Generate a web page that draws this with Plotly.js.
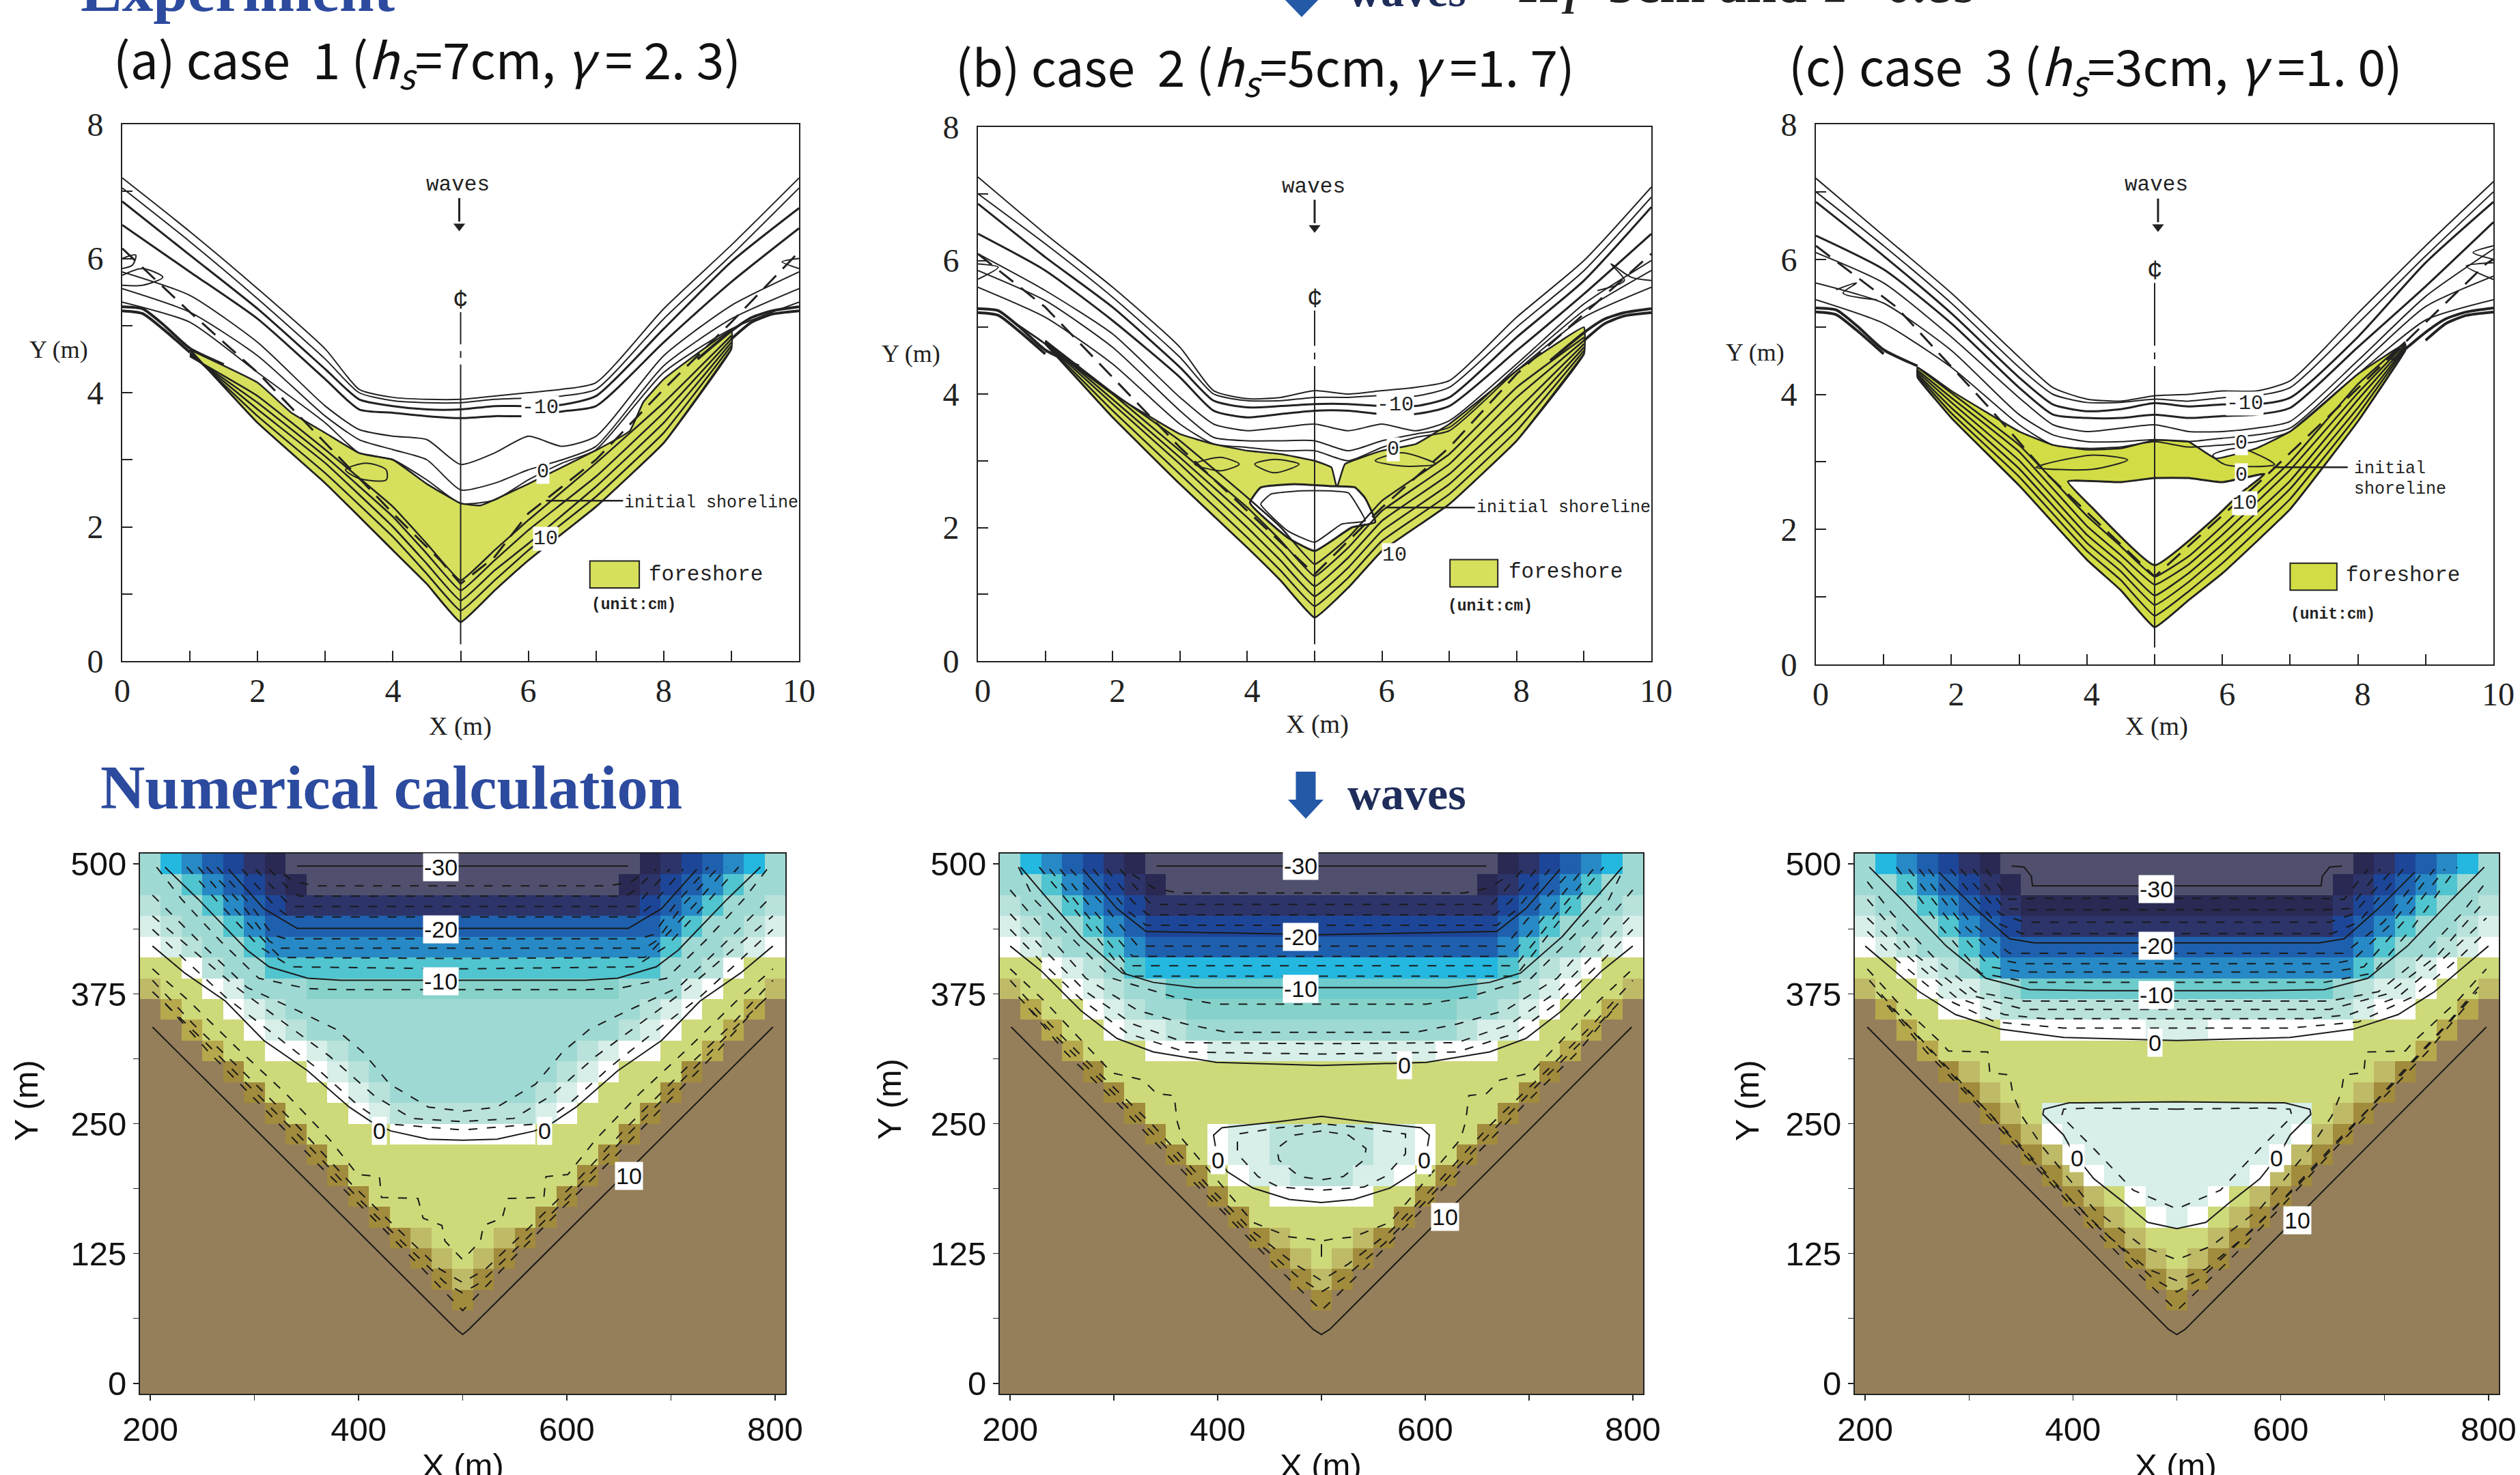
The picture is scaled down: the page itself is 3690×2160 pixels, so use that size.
<!DOCTYPE html>
<html><head><meta charset="utf-8">
<script src="https://cdn.plot.ly/plotly-3.0.1.min.js"></script>
<style>html,body{margin:0;padding:0;background:#fff;overflow:hidden}#g{width:3690px;height:2160px}</style>
</head><body><div id="g"></div>
<script>
const W=3690,H=2160;
// ---------- experiment panels (X, Y in metres) ----------
const expX=[0,1,2,3,3.5,4,4.5,5,5.5,6,6.5,7,8,9,10];
const expLinesA=[
[7.2,6.4,5.55,4.65,4.05,3.93,3.9,3.9,3.95,4.0,4.05,4.15,5.25,6.2,7.2],
[7.05,6.25,5.4,4.5,4.0,3.88,3.85,3.85,3.9,3.92,3.95,4.05,5.1,6.05,7.05],
[6.85,6.05,5.25,4.35,3.9,3.8,3.75,3.75,3.8,3.8,3.82,3.95,4.95,5.95,6.75],
[6.5,5.8,5.1,4.2,3.75,3.7,3.65,3.62,3.65,3.65,3.72,3.8,4.75,5.65,6.45],
[5.8,5.45,4.75,3.8,3.45,3.35,3.3,2.93,3.1,3.35,3.2,3.35,4.55,5.3,5.8],
[5.55,5.2,4.55,3.65,3.3,3.15,3.0,2.55,2.65,2.85,3.0,3.2,4.4,5.1,5.55],
[5.35,5.05,4.3,3.55,3.1,3.0,2.7,2.35,2.4,2.7,2.95,3.15,4.3,4.95,5.35]];
const expLinesB=[
[7.25,6.4,5.6,4.7,4.05,3.93,3.95,4.05,4.0,4.05,4.1,4.2,5.15,6.0,7.1],
[7.0,6.25,5.45,4.55,4.0,3.9,3.9,3.95,3.95,3.98,3.97,4.1,5.0,5.85,6.95],
[6.85,6.05,5.3,4.4,3.9,3.8,3.82,3.85,3.85,3.82,3.82,3.95,4.85,5.7,6.8],
[6.4,5.85,5.1,4.25,3.75,3.65,3.7,3.75,3.75,3.7,3.7,3.82,4.65,5.5,6.4],
[6.1,5.55,4.9,3.95,3.55,3.45,3.5,3.55,3.45,3.55,3.45,3.6,4.45,5.35,6.0],
[5.85,5.4,4.7,3.75,3.35,3.3,3.3,3.3,3.15,3.3,3.4,3.5,4.4,5.25,5.85],
[5.6,5.15,4.45,3.55,3.25,3.2,3.15,3.15,3.0,3.2,3.35,3.45,4.35,5.15,5.6]];
const expLinesC=[
[7.2,6.35,5.5,4.55,4.1,3.93,3.9,3.98,4.0,4.05,4.05,4.2,5.2,6.2,7.15],
[7.0,6.2,5.35,4.4,4.0,3.88,3.88,3.93,3.9,3.95,3.98,4.1,5.05,6.05,7.0],
[6.85,6.05,5.2,4.25,3.85,3.75,3.78,3.87,3.82,3.85,3.85,3.95,4.85,5.95,6.85],
[6.35,5.85,5.05,4.1,3.7,3.65,3.65,3.7,3.65,3.68,3.7,3.8,4.7,5.6,6.55],
[6.1,5.65,4.85,3.95,3.55,3.45,3.5,3.55,3.45,3.45,3.5,3.6,4.5,5.45,6.15],
[5.65,5.35,4.65,3.7,3.4,3.3,3.3,3.33,3.3,3.35,3.4,3.5,4.4,5.3,5.75],
[5.4,5.05,4.4,3.55,3.25,3.2,3.22,3.3,3.22,3.25,3.3,3.45,4.3,5.1,5.4]];
const foreX=[1,2,3,4,4.5,5,5.5,6,7,8,9];
const foreXC=[1.5,2,3,4,4.5,5,5.5,6,7,8,8.7];
const foreA=[
[4.64,3.55,2.65,1.65,1.15,0.58,1.05,1.5,2.3,3.25,4.65],
[4.6,3.65,2.8,1.85,1.3,0.75,1.2,1.65,2.45,3.4,4.7],
[4.58,3.75,2.95,2.0,1.45,0.9,1.35,1.75,2.6,3.55,4.75],
[4.56,3.85,3.05,2.15,1.6,1.05,1.5,1.95,2.75,3.7,4.8],
[4.54,3.95,3.15,2.3,1.75,1.2,1.65,2.1,2.95,3.85,4.85]];
const foreB=[
[4.75,3.65,2.65,1.7,1.2,0.65,1.1,1.65,2.35,3.3,4.6],
[4.76,3.75,2.8,1.85,1.35,0.82,1.25,1.8,2.5,3.45,4.65],
[4.77,3.85,2.95,2.0,1.5,0.97,1.4,1.95,2.65,3.6,4.7],
[4.78,3.92,3.05,2.15,1.65,1.12,1.55,2.1,2.8,3.75,4.75],
[4.79,4.0,3.15,2.3,1.8,1.27,1.7,2.25,2.95,3.95,4.8],
[4.8,4.02,3.3,2.45,2.0,1.45,1.85,2.4,3.1,4.1,4.85]];
const foreC=[
[4.25,3.65,2.65,1.55,1.1,0.55,0.95,1.35,2.3,3.6,4.65],
[4.28,3.72,2.78,1.68,1.25,0.72,1.08,1.5,2.45,3.7,4.68],
[4.3,3.8,2.9,1.8,1.38,0.88,1.22,1.65,2.6,3.8,4.7],
[4.33,3.88,3.02,1.92,1.5,1.02,1.35,1.78,2.72,3.92,4.72],
[4.36,3.95,3.15,2.05,1.62,1.18,1.48,1.92,2.88,4.02,4.75],
[4.4,4.02,3.25,2.2,1.75,1.3,1.6,2.05,3.0,4.15,4.78]];
const shoreTopA=[[1,4.64],[2,4.15],[2.5,3.7],[3,3.4],[3.5,3.1],[4,3.0],[4.5,2.64],[5,2.35],[5.3,2.32],[6,2.64],[7,3.14],[7.5,3.43],[7.7,3.86],[8,4.2],[9,4.93]];
const shoreTopB=[[0.5,5.1],[1,4.75],[2,4.0],[3,3.4],[3.5,3.25],[4,3.15],[4.5,3.1],[5,3.0],[5.25,2.9],[5.33,2.6],[5.45,2.95],[6,3.15],[6.5,3.25],[7,3.55],[8,4.35],[9,5.0]];
const shoreTopC=[[1.5,4.4],[2,4.05],[3,3.45],[3.5,3.25],[4,3.18],[4.5,3.2],[5,3.32],[5.5,3.3],[5.9,3.05],[6.5,3.2],[7,3.45],[8,4.3],[8.7,4.75]];
const lagoonB=[[4.04,2.37],[4.2,2.6],[4.7,2.65],[5.24,2.62],[5.6,2.6],[5.75,2.44],[5.9,2.08],[5.55,2.0],[5,1.65],[4.6,1.85],[4.04,2.37]];
const lagoonB2=[[4.2,2.35],[4.35,2.5],[4.8,2.55],[5.2,2.55],[5.5,2.52],[5.62,2.35],[5.75,2.1],[5.4,2.05],[5,1.78],[4.6,1.95],[4.2,2.35]];
const lagoonC=[[3.72,2.71],[4.08,2.32],[5,1.47],[5.9,2.18],[6.26,2.53],[6.62,2.82],[6,2.7],[5.5,2.76],[5,2.76],[4.5,2.7],[3.72,2.71]];
const lensA=[[[3.3,2.85],[3.6,2.95],[3.9,2.85],[3.9,2.7],[3.5,2.72],[3.3,2.85]],[[0,6.0],[0.2,6.05],[0.15,5.9],[0,5.85]],[[0,5.75],[0.3,5.85],[0.6,5.72],[0.3,5.6],[0,5.6]],[[10,6.0],[9.75,5.95],[10,5.85]]];
const lensB=[[[3.22,2.95],[3.6,3.05],[3.88,2.95],[3.6,2.85],[3.22,2.95]],[[4.11,2.95],[4.4,3.02],[4.77,2.95],[4.4,2.82],[4.11,2.95]],[[5.9,3.0],[6.3,3.12],[6.8,2.95],[6.3,2.92],[5.9,3.0]],[[0,5.95],[0.3,5.9],[0,5.72]],[[10,5.7],[9.7,5.75],[9.4,5.95],[9.6,5.7],[9.2,5.55]]];
const lensC=[[[3.25,2.92],[4.08,3.1],[4.6,3.03],[4.08,2.89],[3.25,2.92]],[[5.86,3.1],[6.26,3.2],[6.77,2.96],[6.04,2.96],[5.86,3.1]],[[0.3,5.55],[0.6,5.65],[0.4,5.5],[0.9,5.4]],[[10,6.2],[9.7,6.1],[10,6.0]],[[10,5.95],[9.6,5.9],[10,5.7]]];
const initShoreA=[[0,6.15],[1,5.2],[2,4.3],[3,3.25],[4,2.2],[4.7,1.5],[5,1.15],[5.5,1.55],[6,2.2],[7,3.0],[8,4.05],[9,5.05],[10,6.1]];
const initShoreB=[[0,6.1],[1,5.3],[2,4.25],[3,3.2],[4,2.25],[5,1.3],[6,2.3],[7,3.2],[8,4.3],[9,5.2],[10,6.1]];
const initShoreC=[[0,6.2],[1.18,5.3],[2.56,3.8],[3.43,2.8],[5,1.3],[6.6,2.75],[7.7,3.8],[9.9,5.94],[10,6.0]];
const shoreEnds=[[[0,5.28],[0.3,5.25],[0.6,5.02],[1,4.66],[1.5,4.42]],[[0,5.22],[0.3,5.18],[0.6,4.95],[1,4.6]],[[8.5,4.5],[9,4.92],[9.3,5.12],[9.6,5.22],[10,5.28]],[[9,4.8],[9.3,5.05],[9.6,5.17],[10,5.22]]];
// ---------- numerical panels: grid labels, cells as run-length level codes, top row first ----------
const gridX=[200,220,240,260,280,300,320,340,360,380,400,420,440,460,480,500,520,540,560,580,600,620,640,660,680,700,720,740,760,780,800];
const gridY=[500,480,460,440,420,400,380,360,340,320,300,280,260,240,220,200,180,160,140,120,100,80,60,40,20,0];
const levelCodes=["K","L","M","N","O","P","Q","R","q","r","S","T","U","V","W","X","Y","y","Z"];
const levelColors=["#50506e","#2a2953","#2d3469","#1d4698","#1f60ae","#2789c5","#24b8e0","#50c4cf","#6dcbcc","#86d2ca","#9fd9d3","#b9e2db","#d7eee9","#ffffff","#ced97a","#bfba67","#b6a84c","#a18b3c","#957f5a"];
const cellsA=["SQPONML17KLMNOPQS","SSRPONML15KLMNOPRSS","TSSRPON17MNOPRSST","UTSSRP19OPRSSTU","VUTSSR19PRSSTUV","WWVTSS19RSSTVWW","XWWVUSSS15rSSSUVWWX","ZYWWVUT17STUVWWYZ","ZZYWWVUT15STUVWWYZZ","ZZZYWWVVUT11STUVVWWYZZZ","4ZyWWWVUT9STUVWWWy4Z","5ZyWWWVUT7STUVWWWy5Z","6ZyWWWVU7TUVWWWy6Z","7Zy4W7V4Wy7Z","8Zy13Wy8Z","9Zy11Wy9Z","10Zy9Wy10Z","11Zy7Wy11Z","12ZyX3WXy12Z","13ZyXWXy13Z","14ZyXy14Z","15Zy15Z","31Z","31Z","31Z","31Z"];
const cellsB=["SQPONML17KLMNOPQS","SSRPONML15KLMNOPRSS","TSSRPON17MNOPRSST","UTSSRPO17NOPRSSTU","VUTSSRP17OPRSSTUV","WWVUTSR17QRSTUVWW","XWWVUTSS15qSSTUVWWX","ZYWWVUTSS13rSSTUVWWYZ","ZZYWWVUUT13STUUVWWYZZ","ZZZYWWWVVV11UVVVWWWYZZZ","4Zy21Wy4Z","5Zy19Wy5Z","6Zy17Wy6Z","7Zy2WV2U5T2UV2Wy7Z","8ZyWV2U5T2UVWy8Z","9ZyWV2U3T2UVWy9Z","10Zy2W5V2Wy10Z","11Zy7Wy11Z","12ZyX3WXy12Z","13ZyXWXy13Z","14ZyXy14Z","15Zy15Z","31Z","31Z","31Z","31Z"];
const cellsC=["SQPONML17KLMNOPQS","SSRPONML15KLMNOPRSS","TSSRPONM15LMNOPRSST","UTSSRPON15MNOPRSSTU","VUTSSRP17OPRSSTUV","WWVUTSR17PRSTUVWW","XWWVUUTS15qSTUUVWWX","ZYWWVVU17TUVVWWYZ","ZZY4W7V3U7V4WYZZ","ZZZY23WYZZZ","4ZyX19WXy4Z","5ZyX17WXy5Z","6ZyXW13UWXy6Z","7ZyXV11UVXy7Z","8ZyXV9UVXy8Z","9ZyXV7UVXy9Z","10ZyXWV3UVWXy10Z","11ZyXWVUVWXy11Z","12ZyX3WXy12Z","13ZyXWXy13Z","14ZyXy14Z","15Zy15Z","31Z","31Z","31Z","31Z"];
// contour lines, left half of the symmetric basin: [level, [x,y]...]
const numA=[
[-30,[341,498],[500,498]],
[-28,[328,490],[338,483],[359,479],[500,479]],
[-26,[314,495],[333,476],[343,469],[500,469]],
[-24,[301,495],[328,466],[335,459],[500,459]],
[-22,[288,495],[320,459],[333,449],[500,449]],
[-20,[275,495],[309,457],[341,438],[500,438]],
[-18,[264,497],[296,461],[317,432],[330,428],[500,428]],
[-16,[254,497],[288,461],[314,426],[325,419],[500,419]],
[-14,[246,497],[277,461],[314,421],[325,410],[500,409]],
[-12,[235,497],[267,461],[304,421],[335,401],[500,399]],
[-10,[214,497],[246,466],[267,444],[293,417],[314,401],[351,390],[383,388],[500,388]],
[-8,[206,497],[230,466],[267,426],[304,390],[351,380],[383,379],[500,379]],
[-6,[202,470],[251,421],[293,381],[341,359],[378,341],[404,319],[430,288],[467,266],[500,262]],
[-4,[202,450],[241,417],[283,381],[330,346],[372,315],[415,277],[451,255],[500,252]],
[-2,[202,437],[235,406],[272,372],[320,335],[359,304],[399,268],[425,250],[500,244]],
[0,[202,421],[233,395],[272,368],[309,330],[351,301],[391,266],[415,250],[431,243],[467,235],[500,234]],
[2,[202,399],[235,370],[283,323],[330,279],[372,235],[399,201],[420,199],[422,179],[457,178],[462,159],[480,152],[483,137],[500,119]],
[4,[202,388],[241,346],[288,301],[341,248],[393,192],[436,150],[478,110],[500,97]],
[6,[202,377],[246,335],[293,288],[346,235],[399,179],[441,137],[483,97],[500,87]],
[8,[214,366],[256,319],[304,270],[357,215],[409,164],[457,115],[500,70]],
[10,[202,343],[494,52],[500,47]]];
const numB=[
[-30,[341,498],[500,498]],
[-28,[318,490],[338,477],[363,472],[500,472]],
[-26,[306,495],[323,475],[336,461],[500,461]],
[-24,[293,495],[318,464],[333,451],[500,451]],
[-22,[280,495],[313,455],[331,441],[500,441]],
[-20,[270,495],[303,457],[331,435],[500,432]],
[-18,[258,495],[293,457],[323,421],[500,421]],
[-16,[248,495],[283,452],[318,411],[500,411]],
[-14,[238,495],[273,452],[313,402],[500,402]],
[-12,[228,497],[263,455],[313,392],[500,392]],
[-10,[210,497],[233,470],[268,430],[308,395],[338,386],[379,381],[500,381]],
[-8,[208,497],[223,466],[258,430],[298,390],[358,372],[399,365],[500,365]],
[-6,[200,475],[238,430],[273,390],[323,359],[369,346],[409,338],[500,338]],
[-4,[200,452],[233,417],[273,377],[318,346],[369,328],[500,327]],
[-2,[200,437],[230,406],[268,370],[313,337],[369,319],[500,317]],
[0,[200,421],[230,397],[268,359],[303,332],[338,319],[399,309],[500,306]],
[0,[500,257],[459,252],[404,246],[396,239],[399,221],[409,204],[434,188],[469,177],[500,174]],
[-2,[500,250],[459,246],[419,240],[419,221],[439,199],[459,189],[500,186]],
[-4,[500,243],[474,239],[457,226],[459,215],[479,199],[500,196]],
[2,[200,399],[233,368],[298,299],[328,292],[341,279],[358,277],[361,252],[366,235],[389,208],[434,155],[469,141],[489,139],[500,137],[500,119]],
[4,[200,388],[238,346],[283,301],[338,248],[389,192],[434,146],[474,115],[500,99]],
[6,[208,372],[243,335],[291,288],[343,235],[396,179],[439,135],[479,101],[500,88]],
[8,[218,361],[253,319],[303,270],[356,215],[406,164],[454,115],[500,70]],
[10,[201,343],[492,52],[500,47]]];
const numC=[
[-30,[341,498],[353,497],[360,488],[361,479],[500,479]],
[-28,[316,495],[339,466],[368,467],[500,467]],
[-26,[304,495],[334,457],[358,456],[500,456]],
[-24,[292,495],[330,452],[353,444],[500,444]],
[-22,[282,495],[325,444],[351,433],[500,433]],
[-20,[271,492],[306,457],[339,428],[363,424],[500,424]],
[-18,[261,495],[301,444],[339,414],[500,414]],
[-16,[252,495],[292,444],[330,408],[349,404],[500,404]],
[-14,[242,495],[282,444],[320,401],[353,396],[500,396]],
[-12,[230,497],[273,439],[311,395],[358,386],[500,386]],
[-10,[204,497],[235,466],[278,421],[316,390],[358,379],[420,378],[500,378]],
[-8,[202,483],[226,452],[268,408],[306,377],[353,368],[500,368]],
[-6,[202,466],[249,412],[297,375],[353,360],[500,360]],
[-4,[202,448],[240,412],[287,372],[334,355],[372,351],[500,351]],
[-2,[202,435],[230,408],[273,372],[325,348],[391,342],[500,342]],
[0,[200,421],[226,399],[252,377],[287,355],[330,341],[391,333],[500,330]],
[0,[500,271],[396,270],[372,264],[371,259],[391,239],[401,221],[420,197],[448,175],[472,155],[500,149]],
[-2,[500,264],[415,265],[391,264],[389,257],[420,226],[458,186],[500,168]],
[2,[202,399],[230,368],[273,328],[280,320],[318,319],[320,299],[339,297],[342,279],[351,257],[372,226],[420,168],[467,132],[500,119]],
[4,[204,388],[240,346],[282,301],[330,248],[382,192],[429,146],[472,110],[500,99]],
[6,[211,377],[249,335],[292,288],[344,235],[396,179],[439,137],[477,101],[500,88]],
[8,[221,364],[259,319],[306,270],[358,215],[405,164],[453,115],[500,70]],
[10,[202,343],[492,52],[500,47]]];
const labelsA=[["-30",479,497],["-20",479,437],["-10",479,387],["0",420,243],["0",579,243],["10",660,200]];
const labelsB=[["-30",480,498],["-20",480,430],["-10",480,380],["0",580,306],["0",400,215],["0",599,215],["10",619,160]];
const labelsC=[["-30",480,476],["-20",480,421],["-10",480,374],["0",479,328],["0",404,217],["0",596,217],["10",616,157]];
const titleA="(a) case  1 (<i>h<sub>s</sub></i>=7cm, <i>γ</i> = 2. 3)";
const titleB="(b) case  2 (<i>h<sub>s</sub></i>=5cm, <i>γ</i> =1. 7)";
const titleC="(c) case  3 (<i>h<sub>s</sub></i>=3cm, <i>γ</i> =1. 0)";

// ---------- build ----------
const traces=[],annos=[],shapes=[],layout={};
const px=v=>v/W, py=v=>1-v/H;
const SER="Liberation Serif", SAN="Liberation Sans", MON="Liberation Mono";
const ink="#222";
function line(xa,ya,pts,o={}){
  const t={type:"scatter",mode:o.mode||"lines",xaxis:xa,yaxis:ya,x:pts.map(p=>p[0]),y:pts.map(p=>p[1]),hoverinfo:"skip",cliponaxis:true,showlegend:false,
    line:{color:o.color||ink,width:o.width||2,dash:o.dash||"solid",shape:o.shape||"linear",smoothing:o.smooth||0.6},fill:o.fill||"none"};
  if(o.marker)t.marker=o.marker;
  if(o.fillcolor)t.fillcolor=o.fillcolor;
  traces.push(t);
}
function note(xr,yr,x,y,text,o={}){annos.push(Object.assign({xref:xr,yref:yr,x,y,text,showarrow:false,font:{family:o.family||MON,size:o.size||30,color:o.color||ink},xanchor:o.xa||"center",yanchor:o.ya||"middle"},o.extra||{}));}
function axisName(k,n){return k+"axis"+(n===1?"":n);}
function ref(k,n){return k+(n===1?"":n);}
function axes(n,x0,x1,y0,y1,xc,yc){
  const base={showgrid:false,zeroline:false,showline:true,linecolor:"#222",linewidth:2,mirror:true,layer:"above traces"};
  layout[axisName("x",n)]=Object.assign({},base,xc,{domain:[px(x0),px(x1)],anchor:ref("y",n)});
  layout[axisName("y",n)]=Object.assign({},base,yc,{domain:[py(y1),py(y0)],anchor:ref("x",n)});
}
function expPanel(n,box,lines,shoreTop,fx,fore,lagoons,lens,init,yellow,t){
  const tf={family:SER,size:48,color:"#222"};
  const mk=(d)=>({ticks:"inside",dtick:d,ticklen:15,tickwidth:2,tickcolor:"#222"});
  axes(n,box[0],box[1],box[2],box[3],
    {range:[0,10],tickmode:"linear",tick0:0,dtick:2,ticks:"inside",ticklen:15,tickwidth:2,tickcolor:"#222",tickfont:tf,ticklabelshift:t.shift,minor:mk(1)},
    {range:[0,8],tickmode:"linear",tick0:0,dtick:2,ticks:"inside",ticklen:15,tickwidth:2,tickcolor:"#222",tickfont:tf,ticklabelstandoff:16,minor:mk(1)});
  const xa=ref("x",n),ya=ref("y",n);
  const low=fore[0].map((y,i)=>[fx[i],y]).reverse();
  line(xa,ya,shoreTop.concat(low,[shoreTop[0]]),{fill:"toself",fillcolor:yellow,width:2.5,shape:"spline",smooth:0.3});
  lagoons.forEach((l,i)=>line(xa,ya,l,{fill:i===0?"toself":"none",fillcolor:i===0?"#fff":undefined,width:i===0?3:2,shape:"spline",smooth:0.4}));
  lens.forEach(l=>line(xa,ya,l,{width:2,shape:"spline",smooth:0.8}));
  lines.forEach((row,i)=>line(xa,ya,row.map((y,j)=>[expX[j],y]),{width:(i===2||i===3)?3:2,shape:"spline"}));
  fore.forEach(row=>line(xa,ya,row.map((y,j)=>[fx[j],y]),{width:2.5,shape:"spline",smooth:0.3}));
  shoreEnds.forEach(l=>line(xa,ya,l,{width:4,shape:"spline"}));
  line(xa,ya,init,{width:3,dash:"26px,14px"});
  line(xa,ya,[[5,t.top],[5,4.72]],{width:2});
  line(xa,ya,[[5,4.62],[5,4.52]],{width:2});
  line(xa,ya,[[5,4.42],[5,0.25]],{width:2});
  // annotations
  note(xa,ya,t.waves[0],t.waves[1],"waves",{size:31});
  const ax=t.waves[0]+0.02;
  line(xa,ya,[[ax,t.waves[1]-0.2],[ax,t.waves[1]-0.55]],{width:3});
  line(xa,ya,[[ax,t.waves[1]-0.62]],{mode:"markers",marker:{symbol:"triangle-down",size:15,color:ink,line:{width:0}}});
  note(xa,ya,5,t.top+0.17,"¢",{size:38,family:MON});
  t.marks.forEach(m=>note(xa,ya,m[1],m[2],m[0],{size:30,extra:{bgcolor:"#fff",borderpad:0}}));
  t.shore.forEach(m=>note(xa,ya,m[1],m[2],m[0],{size:25,xa:"left"}));
  line(xa,ya,t.leader,{width:2.5});
  shapes.push({type:"rect",xref:xa,yref:ya,x0:t.rect[0],x1:t.rect[1],y0:t.rect[2],y1:t.rect[3],fillcolor:yellow,line:{color:"#222",width:2}});
  note(xa,ya,t.fs[0],t.fs[1],"foreshore",{size:31,xa:"left"});
  note(xa,ya,t.un[0],t.un[1],"<b>(unit:cm)</b>",{size:23,xa:"left"});
}
const cellVal=s=>{const out=[];s.replace(/(\d*)([A-Za-z])/g,(m,n,c)=>{for(let i=0;i<(n?+n:1);i++)out.push(levelCodes.indexOf(c)+0.5);return m;});if(out.length!==31)throw new Error("row "+s+" "+out.length);return out;};
const scale=[];levelColors.forEach((c,i)=>{scale.push([i/levelColors.length,c]);scale.push([(i+1)/levelColors.length,c]);});
function numPanel(n,box,cells,cont,labels){
  const tf={family:SAN,size:49,color:"#111"};
  const mk=(d)=>({ticks:"outside",dtick:d,ticklen:8,tickwidth:1.5,tickcolor:"#222"});
  axes(n,box[0],box[1],box[2],box[3],
    {range:[190,810],tickmode:"linear",tick0:200,dtick:200,ticks:"outside",ticklen:8,tickwidth:1.5,tickcolor:"#222",tickfont:tf,minor:Object.assign(mk(100),{tick0:200}),automargin:false},
    {range:[-10,510],tickmode:"linear",tick0:0,dtick:125,ticks:"outside",ticklen:8,tickwidth:1.5,tickcolor:"#222",tickfont:tf,minor:Object.assign(mk(62.5),{tick0:0}),automargin:false});
  const xa=ref("x",n),ya=ref("y",n);
  traces.push({type:"heatmap",xaxis:xa,yaxis:ya,x:gridX,y:gridY,z:cells.map(cellVal),zmin:0,zmax:levelColors.length,colorscale:scale,showscale:false,zsmooth:false,hoverinfo:"skip"});
  cont.forEach(c=>{
    const lev=c[0],left=c.slice(1);
    const right=left.slice().reverse().map(p=>[1000-p[0],p[1]]);
    const solid=lev%10===0;
    line(xa,ya,left.concat(right.slice(1)),{width:2,dash:solid?"solid":"13px,14px",color:"#1a1a1a"});
  });
  labels.forEach(l=>note(xa,ya,l[1],l[2],l[0],{family:SAN,size:34,color:"#111",extra:{bgcolor:"#fff",borderpad:1}}));
}
expPanel(1,[179,1170,182,968],expLinesA,shoreTopA,foreX,foreA,[],lensA,initShoreA,"#d6e05c",
 {shift:0,top:5.2,waves:[4.96,7.1],marks:[["-10",6.18,3.78],["0",6.22,2.82],["10",6.26,1.82]],shore:[["initial shoreline",7.4,2.36]],leader:[[6.26,2.39],[7.4,2.39]],rect:[6.91,7.64,1.09,1.49],fs:[7.76,1.29],un:[6.91,0.83]});
expPanel(2,[1432,2418,186,968],expLinesB,shoreTopB,foreX,foreB,[lagoonB,lagoonB2],lensB,initShoreB,"#d6e05c",
 {shift:7,top:5.25,waves:[4.98,7.11],marks:[["-10",6.2,3.84],["0",6.17,3.17],["10",6.19,1.59]],shore:[["initial shoreline",7.38,2.3]],leader:[[6.05,2.3],[7.38,2.3]],rect:[7.01,7.72,1.11,1.52],fs:[7.86,1.33],un:[6.96,0.82]});
expPanel(3,[2659,3651,182,973],expLinesC,shoreTopC,foreXC,foreC,[lagoonC],lensC,initShoreC,"#d2dc45",
 {shift:7,top:5.65,waves:[5.03,7.1],marks:[["-10",6.33,3.86],["0",6.28,3.28],["0",6.28,2.8],["10",6.33,2.39]],shore:[["initial",7.92,2.9],["shoreline",7.92,2.59]],leader:[[6.75,2.92],[7.85,2.92]],rect:[7.0,7.69,1.1,1.5],fs:[7.8,1.32],un:[6.99,0.74]});
numPanel(4,[205,1150,1250,2041],cellsA,numA,labelsA);
numPanel(5,[1464,2406,1250,2041],cellsB,numB,labelsB);
numPanel(6,[2716,3659,1250,2041],cellsC,numC,labelsC);
// axis names placed to match
[[86,512],[1334,518],[2570,516]].forEach(p=>note("paper","paper",px(p[0]),py(p[1]),"Y (m)",{family:SER,size:36}));
[[674,1063],[1929,1060],[3158,1063]].forEach(p=>note("paper","paper",px(p[0]),py(p[1]),"X (m)",{family:SER,size:38}));
[[38,1612],[1302,1610],[2558,1612]].forEach(p=>note("paper","paper",px(p[0]),py(p[1]),"Y (m)",{family:SAN,size:49,color:"#111",extra:{textangle:-90}}));
[[678,2146],[1934,2146],[3186,2146]].forEach(p=>note("paper","paper",px(p[0]),py(p[1]),"X (m)",{family:SAN,size:49,color:"#111"}));
// panel titles
const TF="Noto Sans CJK JP";
note("paper","paper",px(625),py(88),titleA,{family:TF,size:73,color:"#111"});
note("paper","paper",px(1852),py(100),titleB,{family:TF,size:73,color:"#111"});
note("paper","paper",px(3068),py(98),titleC,{family:TF,size:73,color:"#111"});
// section headers
const BLUE="#2c4a9e",NAVY="#1f2d5a";
note("paper","paper",px(145),py(1153),"<b>Numerical calculation</b>",{family:SER,size:90.5,color:BLUE,xa:"left"});
note("paper","paper",px(116),py(-14),"<b>Experiment</b>",{family:SER,size:91,color:BLUE,xa:"left"});
note("paper","paper",px(1971),py(1162),"<b>waves</b>",{family:SER,size:68,color:NAVY,xa:"left"});
note("paper","paper",px(1971),py(-14),"<b>waves</b>",{family:SER,size:68,color:NAVY,xa:"left"});
note("paper","paper",px(2222),py(-18),"<b><i>H<sub>I</sub></i>=5cm and <i>T</i>=0.8s</b>",{family:SER,size:80,color:"#222",xa:"left"});
// block arrows
function arrowPath(cx,top,headTop,tip,hw,sw){
  const X=v=>px(v),Y=v=>py(v);
  return `M ${X(cx-sw)} ${Y(top)} L ${X(cx+sw)} ${Y(top)} L ${X(cx+sw)} ${Y(headTop)} L ${X(cx+hw)} ${Y(headTop)} L ${X(cx)} ${Y(tip)} L ${X(cx-hw)} ${Y(headTop)} L ${X(cx-sw)} ${Y(headTop)} Z`;
}
shapes.push({type:"path",xref:"paper",yref:"paper",path:arrowPath(1912,1130,1171,1199,26,14.5),fillcolor:"#2459a8",line:{width:0}});
shapes.push({type:"path",xref:"paper",yref:"paper",path:arrowPath(1906,-40,-4,25,28,15),fillcolor:"#2459a8",line:{width:0}});
Object.assign(layout,{width:W,height:H,margin:{l:0,r:0,t:0,b:0},paper_bgcolor:"#fff",plot_bgcolor:"#fff",showlegend:false,annotations:annos,shapes:shapes});
Plotly.newPlot("g",traces,layout,{staticPlot:true,displayModeBar:false});
</script></body></html>
